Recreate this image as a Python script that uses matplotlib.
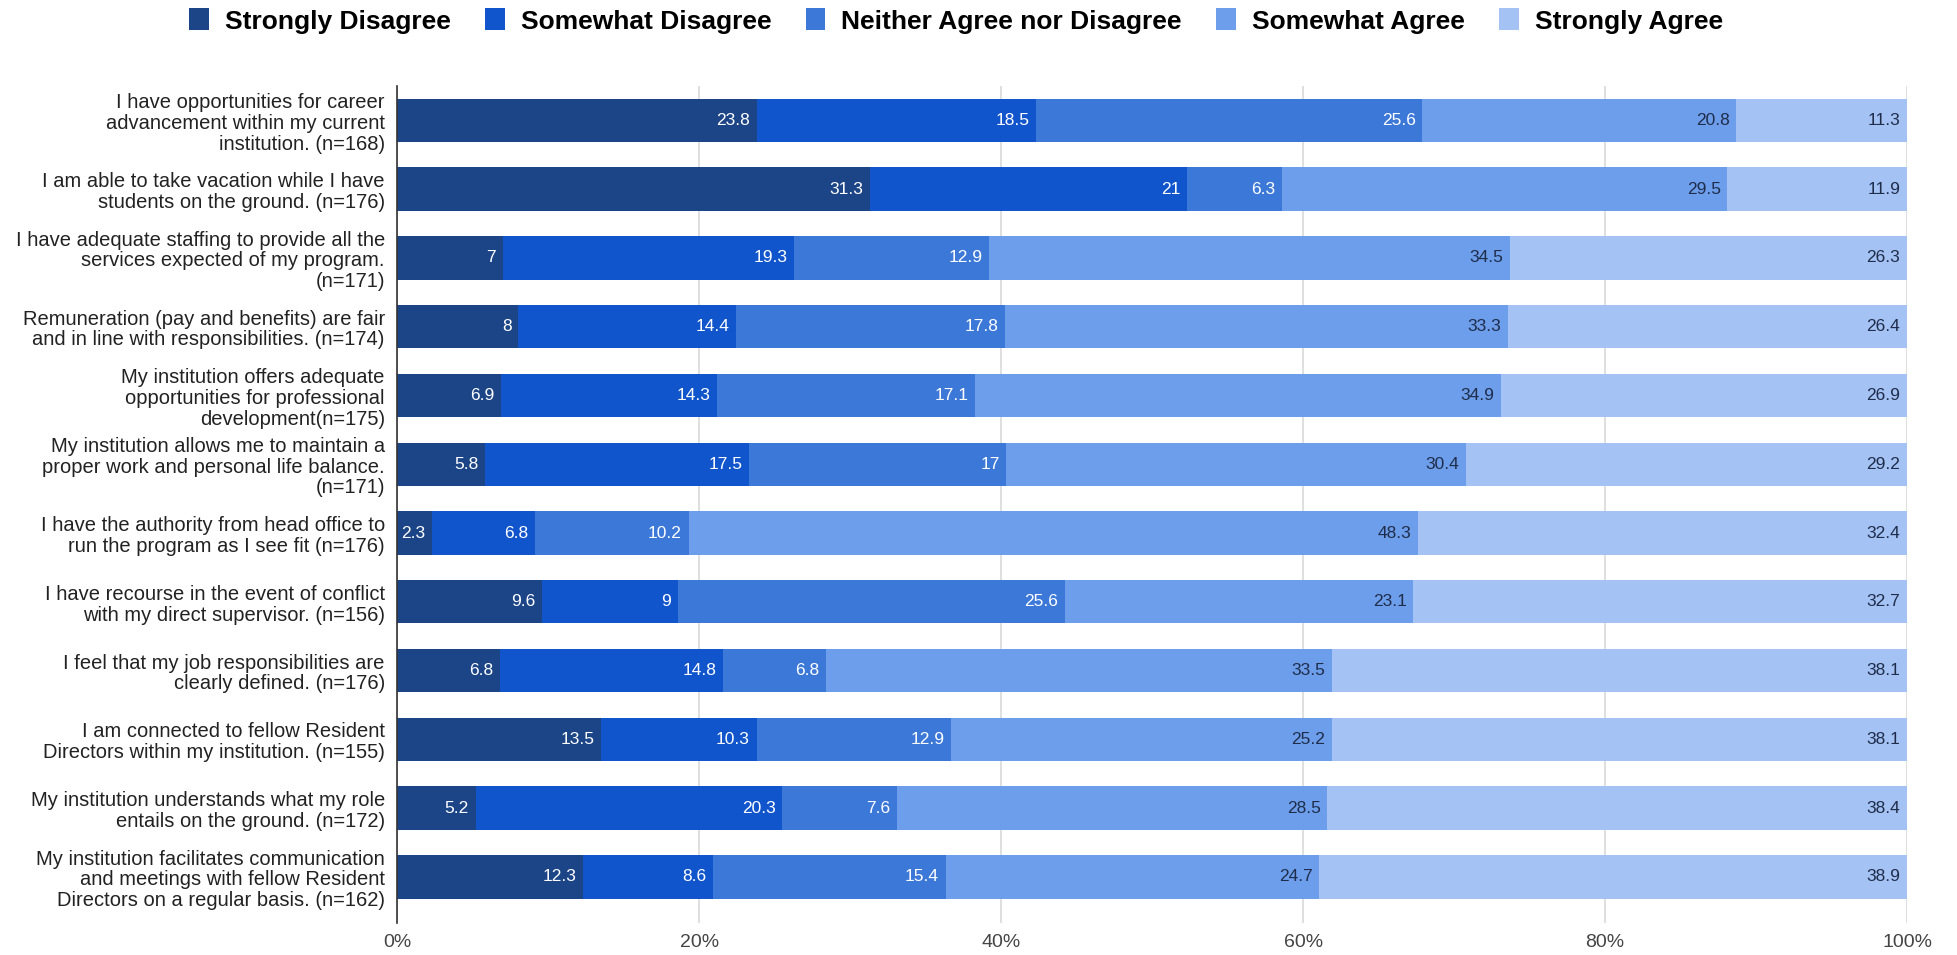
import matplotlib
matplotlib.use("Agg")
import matplotlib.pyplot as plt
import numpy as np
from matplotlib.ticker import FuncFormatter

plt.rcParams['font.family'] = ['Liberation Sans', 'DejaVu Sans']

categories = [
    "I have opportunities for career\nadvancement within my current\ninstitution. (n=168)",
    "I am able to take vacation while I have\nstudents on the ground. (n=176)",
    "I have adequate staffing to provide all the\nservices expected of my program.\n(n=171)",
    "Remuneration (pay and benefits) are fair\nand in line with responsibilities. (n=174)",
    "My institution offers adequate\nopportunities for professional\ndevelopment(n=175)",
    "My institution allows me to maintain a\nproper work and personal life balance.\n(n=171)",
    "I have the authority from head office to\nrun the program as I see fit (n=176)",
    "I have recourse in the event of conflict\nwith my direct supervisor. (n=156)",
    "I feel that my job responsibilities are\nclearly defined. (n=176)",
    "I am connected to fellow Resident\nDirectors within my institution. (n=155)",
    "My institution understands what my role\nentails on the ground. (n=172)",
    "My institution facilitates communication\nand meetings with fellow Resident\nDirectors on a regular basis. (n=162)",
]

series_names = ["Strongly Disagree", "Somewhat Disagree", "Neither Agree nor Disagree",
                "Somewhat Agree", "Strongly Agree"]

strongly_disagree = [23.8, 31.3, 7, 8, 6.9, 5.8, 2.3, 9.6, 6.8, 13.5, 5.2, 12.3]
somewhat_disagree = [18.5, 21, 19.3, 14.4, 14.3, 17.5, 6.8, 9, 14.8, 10.3, 20.3, 8.6]
neither = [25.6, 6.3, 12.9, 17.8, 17.1, 17, 10.2, 25.6, 6.8, 12.9, 7.6, 15.4]
somewhat_agree = [20.8, 29.5, 34.5, 33.3, 34.9, 30.4, 48.3, 23.1, 33.5, 25.2, 28.5, 24.7]
strongly_agree = [11.3, 11.9, 26.3, 26.4, 26.9, 29.2, 32.4, 32.7, 38.1, 38.1, 38.4, 38.9]

colors = ["#1c4587", "#1155cc", "#3c78d8", "#6d9eeb", "#a4c2f4"]
text_colors = ["white", "white", "white", "#1f2d4a", "#1f2d4a"]

data = np.array([strongly_disagree, somewhat_disagree, neither, somewhat_agree, strongly_agree], dtype=float)
totals = data.sum(axis=0)
pct = data / totals * 100

fig = plt.figure(figsize=(19.57, 9.55), dpi=100)
ax = fig.add_axes([0.203, 0.0335, 0.9745 - 0.203, 0.91 - 0.0335])

y = np.arange(len(categories))
left = np.zeros(len(categories))
handles = []
for k in range(5):
    bars = ax.barh(y, pct[k], left=left, height=0.63, color=colors[k],
                   label=series_names[k], zorder=3)
    handles.append(bars)
    for i in range(len(categories)):
        v = data[k, i]
        xend = left[i] + pct[k, i]
        ax.text(xend - 0.45, y[i], f"{v:g}", ha='right', va='center',
                fontsize=12.5, color=text_colors[k], zorder=4)
    left += pct[k]

ax.set_xlim(0, 100)
ax.set_ylim(11.67, -0.5)
ax.set_yticks(y)
ax.set_yticklabels(categories, fontsize=14.5, color="#222222", ha='right',
                   linespacing=1.12)
ax.set_xticks([0, 20, 40, 60, 80, 100])
ax.xaxis.set_major_formatter(FuncFormatter(lambda v, p: f"{v:.0f}%"))
ax.tick_params(axis='x', length=0, labelsize=14, labelcolor="#444444", pad=8)
ax.tick_params(axis='y', length=0, pad=9)
ax.grid(axis='x', color="#d9d9d9", linewidth=1.2, zorder=0)
for s in ['top', 'right', 'bottom']:
    ax.spines[s].set_visible(False)
ax.spines['left'].set_color("#333333")
ax.spines['left'].set_linewidth(1.2)
ax.spines['left'].set_zorder(5)

fig.legend(handles=handles, labels=series_names, loc='center',
           bbox_to_anchor=(956 / 1957, 1 - 21 / 955), ncol=5, frameon=False,
           prop={'size': 19, 'weight': 'bold'}, handlelength=0.75, handleheight=0.9,
           handletextpad=0.6, columnspacing=1.3)

fig.savefig("out.png", dpi=100)
